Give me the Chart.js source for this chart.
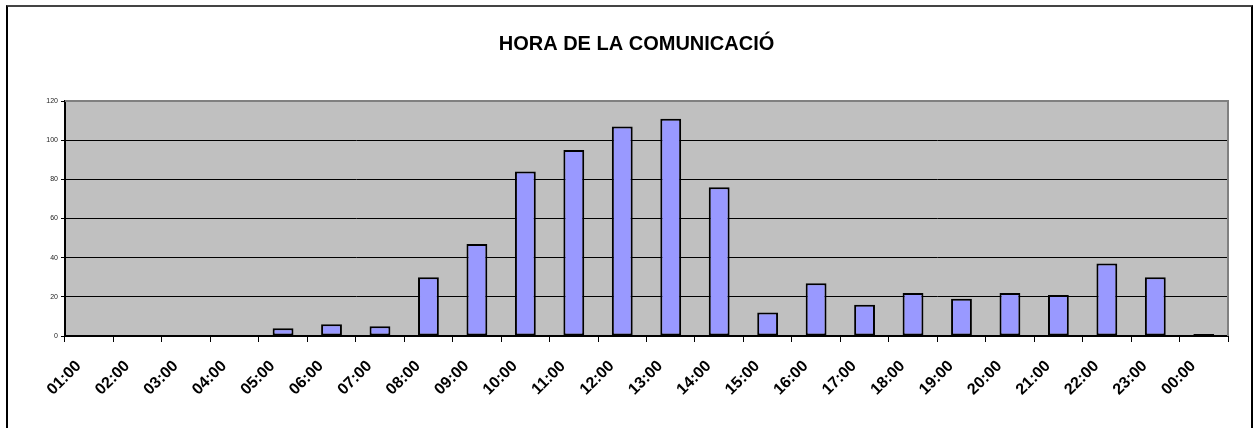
<!DOCTYPE html>
<html lang="ca">
<head>
    <meta charset="UTF-8">
    <title>Hora de la comunicació</title>
    <script src="https://cdn.jsdelivr.net/npm/chart.js@4.4.1/dist/chart.umd.min.js"></script>
    <style>
        body {
            margin: 0;
            background-color: #fff;
            width: 1258px;
            height: 428px;
            overflow: hidden;
            position: relative;
        }
        #frame {
            position: absolute;
            left: 6px;
            top: 5px;
            width: 1247px;
            height: 440px;
            border: 2px solid #000;
            border-top-color: #444;
            box-sizing: border-box;
        }
        #chartBox {
            position: absolute;
            left: 0;
            top: 0;
            width: 1258px;
            height: 428px;
        }
    </style>
</head>
<body>
    <div id="frame"></div>
    <div id="chartBox">
        <canvas id="horaChart"></canvas>
    </div>

    <script>
        const hours = ['01:00', '02:00', '03:00', '04:00', '05:00', '06:00', '07:00', '08:00',
                       '09:00', '10:00', '11:00', '12:00', '13:00', '14:00', '15:00', '16:00',
                       '17:00', '18:00', '19:00', '20:00', '21:00', '22:00', '23:00', '00:00'];
        const calls = [0, 0, 0, 0, 4, 6, 5, 30, 47, 84, 95, 107, 111, 76, 12, 27, 16, 22, 19, 22, 21, 37, 30, 1];
        const yMin = 0;
        const yMax = 120;
        const yStep = 20;

        const font = 'Arial, "Liberation Sans", sans-serif';

        // fons gris de l'area del grafic i vora dreta
        const plotArea = {
            id: 'plotArea',
            beforeDraw(chart) {
                const { ctx, chartArea: a } = chart;
                ctx.save();
                ctx.fillStyle = '#c0c0c0';
                ctx.fillRect(a.left, a.top, a.right - a.left, a.bottom - a.top);
                ctx.restore();
            },
            afterDatasetsDraw(chart) {
                const { ctx, chartArea: a } = chart;
                ctx.save();
                ctx.strokeStyle = '#808080';
                ctx.lineWidth = 2;
                ctx.beginPath();
                ctx.moveTo(a.left, a.top);
                ctx.lineTo(a.right, a.top);
                ctx.lineTo(a.right, a.bottom);
                ctx.stroke();
                ctx.restore();
            }
        };

        // etiquetes de l'eix X girades 45 graus, com a l'Excel
        const hourLabels = {
            id: 'hourLabels',
            afterDraw(chart) {
                const { ctx, chartArea: a } = chart;
                const xs = chart.scales.x;
                ctx.save();
                ctx.fillStyle = '#000';
                ctx.font = 'bold 16px ' + font;
                ctx.textAlign = 'center';
                ctx.textBaseline = 'middle';
                hours.forEach((h, i) => {
                    const x = xs.getPixelForTick(i);
                    ctx.save();
                    ctx.translate(x - 25, a.bottom + 42);
                    ctx.rotate(-Math.PI / 4);
                    ctx.fillText(h, 0, 0);
                    ctx.restore();
                });
                ctx.restore();
            }
        };

        const ctx = document.getElementById('horaChart').getContext('2d');
        new Chart(ctx, {
            type: 'bar',
            data: {
                labels: hours,
                datasets: [{
                    data: calls,
                    backgroundColor: '#9999ff',
                    borderColor: '#000',
                    borderWidth: 2,
                    borderSkipped: false,
                    categoryPercentage: 1,
                    barPercentage: 0.43
                }]
            },
            options: {
                responsive: true,
                maintainAspectRatio: false,
                animation: false,
                layout: {
                    padding: { left: 45, right: 30, top: 0, bottom: 0 }
                },
                plugins: {
                    legend: { display: false },
                    tooltip: { enabled: false },
                    title: {
                        display: true,
                        text: 'HORA DE LA COMUNICACIÓ',
                        color: '#000',
                        font: { family: font, size: 20, weight: 'bold' },
                        padding: { top: 32, bottom: 45 }
                    }
                },
                scales: {
                    x: {
                        afterFit(scale) { scale.height = 92; },
                        grid: {
                            offset: true,
                            drawOnChartArea: false,
                            drawTicks: true,
                            tickLength: 6,
                            tickColor: '#000'
                        },
                        border: { color: '#000', width: 2 },
                        ticks: {
                            display: false,
                            autoSkip: false
                        }
                    },
                    y: {
                        min: yMin,
                        max: yMax,
                        afterFit(scale) { scale.width = 20; },
                        grid: {
                            color: (c) => (c.tick && c.tick.value === yMax) ? 'rgba(0,0,0,0)' : '#000',
                            lineWidth: 1,
                            drawTicks: true,
                            tickLength: 4,
                            tickColor: '#000'
                        },
                        border: { color: '#000', width: 2 },
                        ticks: {
                            stepSize: yStep,
                            padding: 3,
                            color: '#222',
                            font: { family: font, size: 7 }
                        }
                    }
                }
            },
            plugins: [plotArea, hourLabels]
        });
    </script>
</body>
</html>
